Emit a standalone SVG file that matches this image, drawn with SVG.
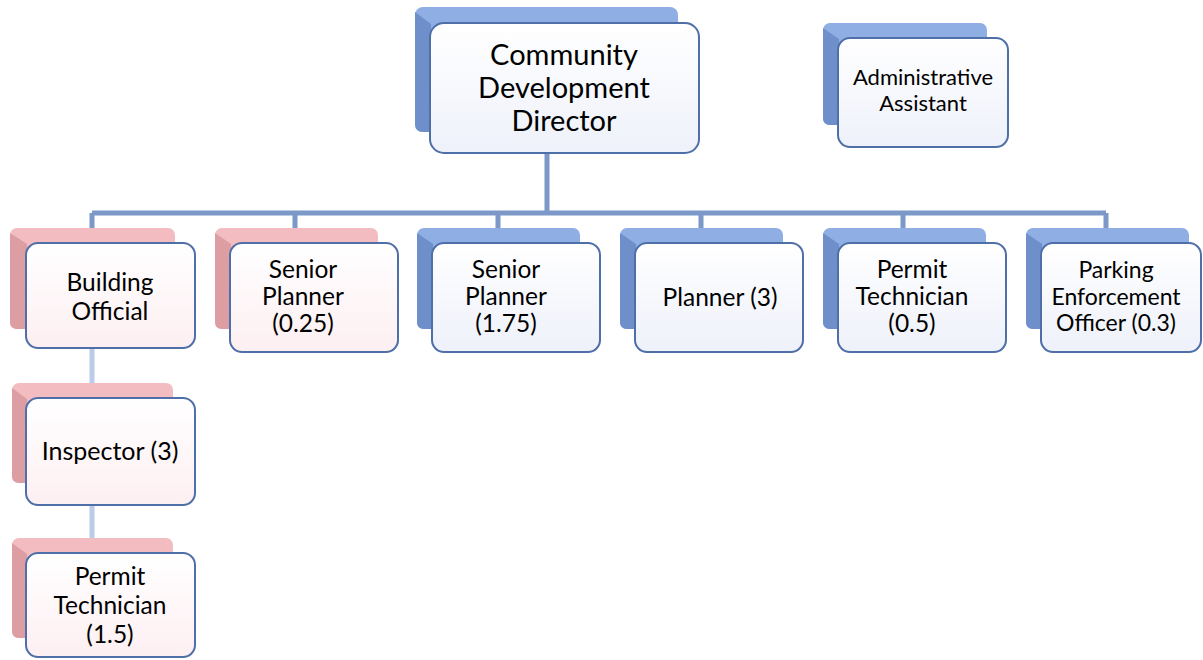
<svg xmlns="http://www.w3.org/2000/svg" width="1203" height="660" viewBox="0 0 1203 660">
<defs>
<linearGradient id="gFrontB" x1="0" y1="0" x2="0" y2="1"><stop offset="0" stop-color="#ffffff"/><stop offset="1" stop-color="#eef1fa"/></linearGradient>
<linearGradient id="gFrontP" x1="0" y1="0" x2="0" y2="1"><stop offset="0" stop-color="#ffffff"/><stop offset="1" stop-color="#fdeff2"/></linearGradient>
<style>
.conn{stroke:#7b98c9;stroke-width:5;fill:none}
.conn2{stroke:#bccbea;stroke-width:5;fill:none}
.bkB{fill:#8eaee4}
.bkBs{fill:#6f8fcb}
.bkP{fill:#f2bcc1}
.bkPs{fill:#dc9ea2}
.frB{fill:url(#gFrontB);stroke:#4f6fa8;stroke-width:2}
.frP{fill:url(#gFrontP);stroke:#4f6fa8;stroke-width:2}
text{font-family:Lato,"Liberation Sans",sans-serif;fill:#000;text-anchor:middle}
.t24{font-size:24.5px}
.t27{font-size:29px}
.t19{font-size:22px}
.t21{font-size:23px}
</style>
</defs>
<rect width="1203" height="660" fill="#ffffff"/>
<g id="connectors">
<path class="conn" d="M547,152V213M92,213H1106M92,213V243M295,213V243M498,213V243M701,213V243M903,213V243M1106,213V243"/>
<path class="conn2" d="M92,347V398M92,505V553"/>
</g>
<g id="director">
<rect class="bkB" x="415" y="7" width="263" height="125" rx="8"/>
<path class="bkBs" d="M415,12L431,24V132H423Q415,132 415,124Z"/>
<rect class="frB" x="430" y="23" width="269" height="130" rx="14"/>
<text class="t27" x="564" y="65">Community</text>
<text class="t27" x="564" y="98">Development</text>
<text class="t27" x="564" y="131">Director</text>
</g>
<g id="admin">
<rect class="bkB" x="823" y="23" width="164" height="102" rx="7"/>
<path class="bkBs" d="M823,28L839,39V125H830Q823,125 823,118Z"/>
<rect class="frB" x="838" y="38" width="170" height="109" rx="12"/>
<text class="t19" x="923" y="85">Administrative</text>
<text class="t19" x="923" y="111">Assistant</text>
</g>
<g id="building-official">
<rect class="bkP" x="10" y="228" width="165" height="101" rx="7"/>
<path class="bkPs" d="M10,233L27,244V329H17Q10,329 10,322Z"/>
<rect class="frP" x="26" y="243" width="169" height="105" rx="12"/>
<text class="t24" x="110" y="291">Building</text>
<text class="t24" x="110" y="320">Official</text>
</g>
<g id="senior-planner-025">
<rect class="bkP" x="215" y="228" width="163" height="101" rx="7"/>
<path class="bkPs" d="M215,233L231,244V329H222Q215,329 215,322Z"/>
<rect class="frP" x="230" y="243" width="168" height="109" rx="12"/>
<text class="t24" x="303" y="278">Senior</text>
<text class="t24" x="303" y="305">Planner</text>
<text class="t24" x="303" y="332">(0.25)</text>
</g>
<g id="senior-planner-175">
<rect class="bkB" x="417" y="228" width="163" height="101" rx="7"/>
<path class="bkBs" d="M417,233L433,244V329H424Q417,329 417,322Z"/>
<rect class="frB" x="432" y="243" width="168" height="109" rx="12"/>
<text class="t24" x="506" y="278">Senior</text>
<text class="t24" x="506" y="305">Planner</text>
<text class="t24" x="506" y="332">(1.75)</text>
</g>
<g id="planner">
<rect class="bkB" x="620" y="228" width="163" height="101" rx="7"/>
<path class="bkBs" d="M620,233L636,244V329H627Q620,329 620,322Z"/>
<rect class="frB" x="635" y="243" width="168" height="109" rx="12"/>
<text class="t24" x="720" y="306">Planner (3)</text>
</g>
<g id="permit-technician-05">
<rect class="bkB" x="823" y="228" width="163" height="101" rx="7"/>
<path class="bkBs" d="M823,233L839,244V329H830Q823,329 823,322Z"/>
<rect class="frB" x="838" y="243" width="168" height="109" rx="12"/>
<text class="t24" x="912" y="278">Permit</text>
<text class="t24" x="912" y="305">Technician</text>
<text class="t24" x="912" y="332">(0.5)</text>
</g>
<g id="parking-enforcement">
<rect class="bkB" x="1026" y="228" width="163" height="101" rx="7"/>
<path class="bkBs" d="M1026,233L1042,244V329H1033Q1026,329 1026,322Z"/>
<rect class="frB" x="1041" y="243" width="160" height="109" rx="12"/>
<text class="t21" x="1116" y="278">Parking</text>
<text class="t21" x="1116" y="305">Enforcement</text>
<text class="t21" x="1116" y="331">Officer (0.3)</text>
</g>
<g id="inspector">
<rect class="bkP" x="12" y="383" width="161" height="100" rx="7"/>
<path class="bkPs" d="M12,388L27,399V483H19Q12,483 12,476Z"/>
<rect class="frP" x="26" y="398" width="169" height="107" rx="12"/>
<text class="t24" x="110" y="460" style="font-size:25px">Inspector (3)</text>
</g>
<g id="permit-technician-15">
<rect class="bkP" x="12" y="538" width="161" height="100" rx="7"/>
<path class="bkPs" d="M12,543L27,554V638H19Q12,638 12,631Z"/>
<rect class="frP" x="26" y="553" width="169" height="104" rx="12"/>
<text class="t24" x="110" y="585">Permit</text>
<text class="t24" x="110" y="614">Technician</text>
<text class="t24" x="110" y="643">(1.5)</text>
</g>
</svg>
